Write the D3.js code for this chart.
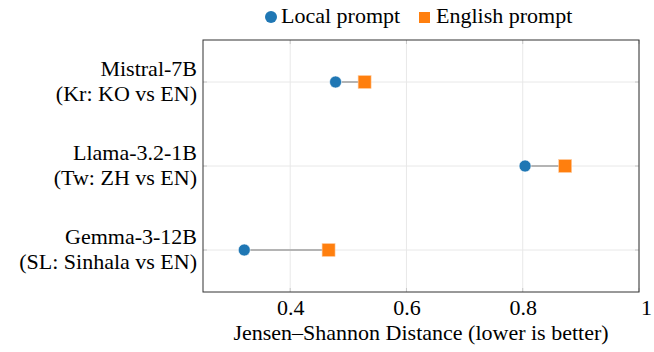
<!DOCTYPE html>
<html>
<head>
<meta charset="utf-8">
<script src="https://cdn.jsdelivr.net/npm/d3@7"></script>
</head>
<body style="margin:0">
<svg id="chart" width="654" height="352"></svg>
<script>
const models = ["Mistral-7B", "Llama-3.2-1B", "Gemma-3-12B"];
const subtitles = ["(Kr: KO vs EN)", "(Tw: ZH vs EN)", "(SL: Sinhala vs EN)"];
const localPrompt = [0.478, 0.804, 0.321];
const englishPrompt = [0.528, 0.873, 0.466];
const xTicks = [0.4, 0.6, 0.8, 1];
const xTickLabels = ["0.4", "0.6", "0.8", "1"];
const seriesNames = ["Local prompt", "English prompt"];
const xTitle = "Jensen\u2013Shannon Distance (lower is better)";

const colors = { local: "#1f77b4", english: "#ff7f0e" };
const W = 654, H = 352;
const margin = { left: 203, right: 15, top: 40, bottom: 60 };
const svg = d3.select("#chart");
const FONT = "'Liberation Serif', monospace";
const fs = 22;

const x = d3.scaleLinear().domain([0.25, 1]).range([margin.left, W - margin.right]);
const y = d3.scalePoint().domain(models).range([margin.top, H - margin.bottom]).padding(0.5);

function label(parent, px, py, str, anchor) {
  return parent.append("text")
    .attr("x", px).attr("y", py)
    .attr("font-family", FONT).attr("font-size", fs)
    .attr("text-anchor", anchor || "start")
    .text(str);
}

// background
svg.append("rect").attr("width", W).attr("height", H).attr("fill", "#fff");

// gridlines
const grid = svg.append("g");
grid.selectAll("line.vx").data(xTicks).join("line")
  .attr("x1", d => x(d)).attr("x2", d => x(d))
  .attr("y1", margin.top).attr("y2", H - margin.bottom)
  .attr("stroke", "#e8e8e8").attr("stroke-width", 1);
grid.selectAll("line.hy").data(models).join("line")
  .attr("x1", margin.left).attr("x2", W - margin.right)
  .attr("y1", d => y(d)).attr("y2", d => y(d))
  .attr("stroke", "#e8e8e8").attr("stroke-width", 1);

// small tick marks inside the frame
const tk = svg.append("g").attr("stroke", "#c8c8c8").attr("stroke-width", 1);
xTicks.forEach(t => {
  tk.append("line").attr("x1", x(t)).attr("x2", x(t)).attr("y1", margin.top).attr("y2", margin.top + 4);
  tk.append("line").attr("x1", x(t)).attr("x2", x(t)).attr("y1", H - margin.bottom - 4).attr("y2", H - margin.bottom);
});
models.forEach(m => {
  tk.append("line").attr("x1", margin.left).attr("x2", margin.left + 4).attr("y1", y(m)).attr("y2", y(m));
  tk.append("line").attr("x1", W - margin.right - 4).attr("x2", W - margin.right).attr("y1", y(m)).attr("y2", y(m));
});

// frame
svg.append("rect")
  .attr("x", margin.left).attr("y", margin.top)
  .attr("width", W - margin.right - margin.left)
  .attr("height", H - margin.bottom - margin.top)
  .attr("fill", "none").attr("stroke", "#333").attr("stroke-width", 1);

// x axis via d3 axis (labels only)
const xAxis = d3.axisBottom(x).tickValues(xTicks)
  .tickFormat((d, i) => xTickLabels[i]).tickSize(0).tickPadding(0);
const gx = svg.append("g").attr("transform", `translate(0,${H - margin.bottom})`).call(xAxis);
gx.attr("font-family", FONT).attr("font-size", fs);
gx.select(".domain").remove();
gx.selectAll("text")
  .attr("font-family", FONT).attr("font-size", fs)
  .attr("fill", "#000").attr("dy", null).attr("y", 23)
  .attr("dx", d => d === 1 ? 7 : 0);

// x title
label(svg, (margin.left + W - margin.right) / 2, 340, xTitle, "middle");

// y labels
models.forEach((m, i) => {
  label(svg, margin.left - 6, y(m) - 6, m, "end");
  label(svg, margin.left - 6, y(m) + 19, subtitles[i], "end");
});

// connectors
svg.append("g").selectAll("line").data(models).join("line")
  .attr("x1", (d, i) => x(localPrompt[i])).attr("x2", (d, i) => x(englishPrompt[i]))
  .attr("y1", d => y(d)).attr("y2", d => y(d))
  .attr("stroke", "#b4b4b4").attr("stroke-width", 2);

// local points
svg.append("g").selectAll("circle").data(models).join("circle")
  .attr("cx", (d, i) => x(localPrompt[i])).attr("cy", d => y(d)).attr("r", 6)
  .attr("fill", colors.local).attr("stroke", "#fff").attr("stroke-width", 0.6);

// english points
const sq = 13;
svg.append("g").selectAll("rect").data(models).join("rect")
  .attr("x", (d, i) => x(englishPrompt[i]) - sq / 2).attr("y", d => y(d) - sq / 2)
  .attr("width", sq).attr("height", sq)
  .attr("fill", colors.english).attr("stroke", "#ffd0a8").attr("stroke-width", 0.6);

// legend
const lg = svg.append("g");
lg.append("circle").attr("cx", 271).attr("cy", 17).attr("r", 6).attr("fill", colors.local);
label(lg, 281, 23, seriesNames[0]);
lg.append("rect").attr("x", 419).attr("y", 12).attr("width", 11).attr("height", 11).attr("fill", colors.english);
label(lg, 436, 23, seriesNames[1]);
</script>
</body>
</html>
